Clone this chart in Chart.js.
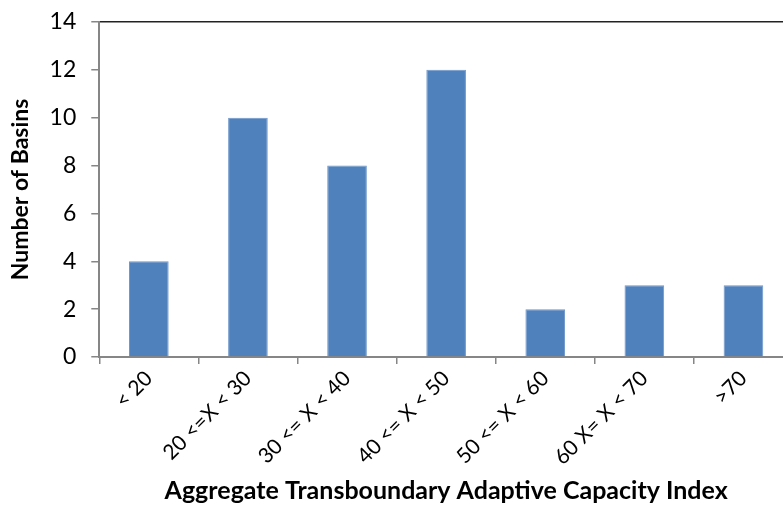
<!DOCTYPE html>
<html>
<head>
<meta charset="utf-8">
<script src="https://cdn.jsdelivr.net/npm/chart.js@4.4.1/dist/chart.umd.min.js"></script>
<style>
html,body{margin:0;padding:0;overflow:hidden;background:#fff;width:783px;height:506px;}
canvas{display:block;}
</style>
</head>
<body>
<canvas id="c" width="800" height="506"></canvas>
<script>
const categories = ["< 20", "20 <=X < 30", "30 <= X < 40", "40 <= X < 50", "50 <= X < 60", "60 X= X < 70", ">70"];
const basins = [4, 10, 8, 12, 2, 3, 3];
const yTicks = [0, 2, 4, 6, 8, 10, 12, 14];
const xTitle = "Aggregate Transboundary Adaptive Capacity Index";
const yTitle = "Number of Basins";

const FONT = "Lato, 'Open Sans', sans-serif";
new Chart(document.getElementById('c'), {
  type: 'bar',
  data: {
    labels: categories,
    datasets: [{
      data: basins,
      backgroundColor: '#4F81BD',
      borderColor: '#6F97CA',
      borderWidth: 1,
      categoryPercentage: 1,
      barPercentage: 0.4
    }]
  },
  options: {
    responsive: false,
    animation: false,
    layout: { padding: { left: 7, right: 7, top: 8, bottom: 0 } },
    plugins: { legend: { display: false }, tooltip: { enabled: false } },
    scales: {
      x: {
        grid: { offset: true, drawOnChartArea: false, drawTicks: true, tickLength: 7, color: '#868686', lineWidth: 1.5 },
        border: { color: '#868686', width: 2 },
        ticks: { color: '#000', font: { family: FONT, size: 21 }, minRotation: 45, maxRotation: 45, padding: 2 },
        title: { display: true, text: xTitle, color: '#000', font: { family: FONT, size: 25, weight: 'bold' }, padding: { top: 4, bottom: 0 } }
      },
      y: {
        min: 0, max: 14,
        afterBuildTicks: (s) => { s.ticks = yTicks.map(v => ({ value: v })); },
        grid: {
          drawTicks: true, tickLength: 8,
          color: (ctx) => (ctx.tick && ctx.tick.value === 14) ? '#222' : 'rgba(0,0,0,0)',
          tickColor: '#868686', lineWidth: 1.5
        },
        border: { color: '#868686', width: 2 },
        ticks: { color: '#000', font: { family: FONT, size: 23, lineHeight: 0.6 }, padding: 15 },
        title: { display: true, text: yTitle, color: '#000', font: { family: FONT, size: 23, weight: 'bold' }, padding: { top: 0, bottom: 0 } }
      }
    }
  }
});
</script>
</body>
</html>
